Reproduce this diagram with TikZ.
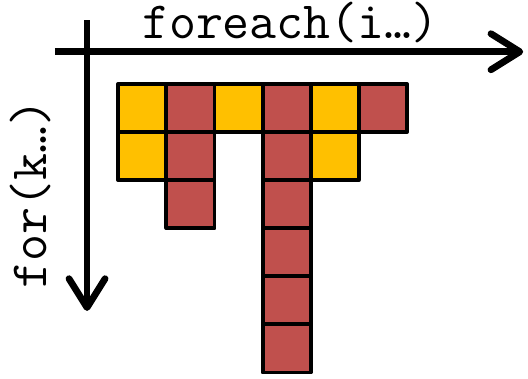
\documentclass[tikz,border=0pt]{standalone}
\usepackage{fontspec}
\usetikzlibrary{arrows.meta}
\definecolor{cellyellow}{RGB}{255,192,0}
\definecolor{cellred}{RGB}{192,80,77}

\begin{document}
\begin{tikzpicture}[
  cell/.style={draw=black, line width=2.3pt, line join=round},
  axis/.style={line width=4pt, -{Straight Barb[length=6mm, width=7.5mm, round]}},
  lbl/.style={font=\ttfamily\fontsize{31}{34}\selectfont}]
\useasboundingbox (-2.46,1.746) rectangle (8.52,-6.133);
% loop axes
\coordinate (i0) at (-1.32,0.67);
\coordinate (i1) at (8.42,0.67);
\coordinate (k0) at (-0.65,1.33);
\coordinate (k1) at (-0.65,-4.72);
\draw[axis] (i0) -- (i1);
\draw[axis] (k0) -- (k1);
\node[lbl, anchor=base] (foreach) at (3.58,0.936) {foreach(i…)};
\node[lbl, anchor=base, rotate=90] (for) at (-1.5,-2.28) {for(k…)};
% yellow cells
\foreach \c/\r in {0/0,0/1,2/0,4/0,4/1}
  \draw[cell, fill=cellyellow] (\c,-\r) rectangle ++(1,-1);
% red cells
\foreach \c/\r in {1/0,1/1,1/2,3/0,3/1,3/2,3/3,3/4,3/5,5/0}
  \draw[cell, fill=cellred] (\c,-\r) rectangle ++(1,-1);
\end{tikzpicture}
\end{document}
